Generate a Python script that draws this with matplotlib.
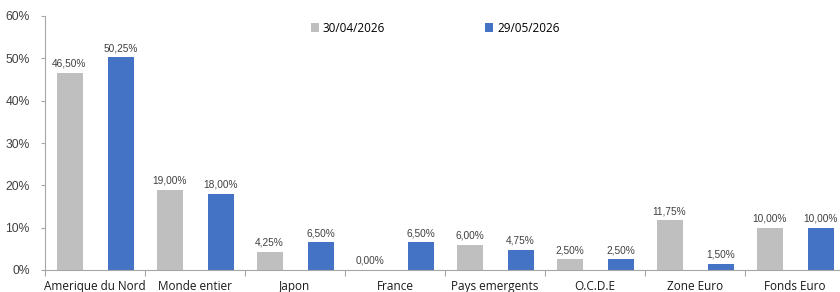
import matplotlib
matplotlib.use("Agg")
import matplotlib.pyplot as plt
import numpy as np
from matplotlib.ticker import FixedLocator, PercentFormatter

categories = ["Amerique du Nord", "Monde entier", "Japon", "France",
              "Pays emergents", "O.C.D.E", "Zone Euro", "Fonds Euro"]
series_names = ["30/04/2026", "29/05/2026"]
values_apr = [46.50, 19.00, 4.25, 0.00, 6.00, 2.50, 11.75, 10.00]
values_may = [50.25, 18.00, 6.50, 6.50, 4.75, 2.50, 1.50, 10.00]

GRAY = "#BFBFBF"
BLUE = "#4472C4"
AXIS = "#A6A6A6"

fig = plt.figure(figsize=(8.4, 2.92), dpi=100)
ax = fig.add_axes([45 / 840, 22 / 292, 800 / 840, 254 / 292])

x = np.arange(len(categories))
w = 0.26
off = 0.255
b1 = ax.bar(x - off, values_apr, w, color=GRAY, label=series_names[0], zorder=2)
b2 = ax.bar(x + off, values_may, w, color=BLUE, label=series_names[1], zorder=2)

def fmt(v):
    return f"{v:.2f}".replace(".", ",") + "%"

for bars, vals in ((b1, values_apr), (b2, values_may)):
    for r, v in zip(bars, vals):
        ax.text(r.get_x() + r.get_width() / 2, v + 1.0, fmt(v),
                ha="center", va="bottom", fontsize=7.3,
                family="Liberation Sans", color="#404040")

ax.set_xlim(-0.5, len(categories) - 0.5)
ax.set_ylim(0, 60)
ax.set_yticks(np.arange(0, 61, 10))
ax.yaxis.set_major_formatter(PercentFormatter(decimals=0))
for lab in ax.get_yticklabels():
    lab.set_family("Liberation Sans")
ax.tick_params(axis="y", labelsize=8.7, colors=AXIS, labelcolor="#404040",
               length=3, width=0.8, pad=8)

# category boundaries as tick marks, labels centred
ax.xaxis.set_major_locator(FixedLocator(np.arange(-0.5, len(categories), 1)))
ax.xaxis.set_minor_locator(FixedLocator(x))
ax.set_xticklabels([])
ax.set_xticklabels(categories, minor=True, fontsize=8.5, family="Open Sans")
ax.tick_params(axis="x", which="major", length=4, width=0.8, colors=AXIS)
ax.tick_params(axis="x", which="minor", length=0, pad=7, labelcolor="#1a1a1a")

for s in ("top", "right"):
    ax.spines[s].set_visible(False)
for s in ("left", "bottom"):
    ax.spines[s].set_color(AXIS)
    ax.spines[s].set_linewidth(0.8)

leg = fig.legend(handles=[b1, b2], labels=series_names, loc="upper left",
                 bbox_to_anchor=(300 / 840, 1 - 11 / 292), ncol=2, frameon=False,
                 handlelength=0.7, handleheight=0.7, handletextpad=0.3,
                 columnspacing=8.5, prop={"family": "Open Sans", "size": 8.5})

fig.savefig("out.png", dpi=100)
